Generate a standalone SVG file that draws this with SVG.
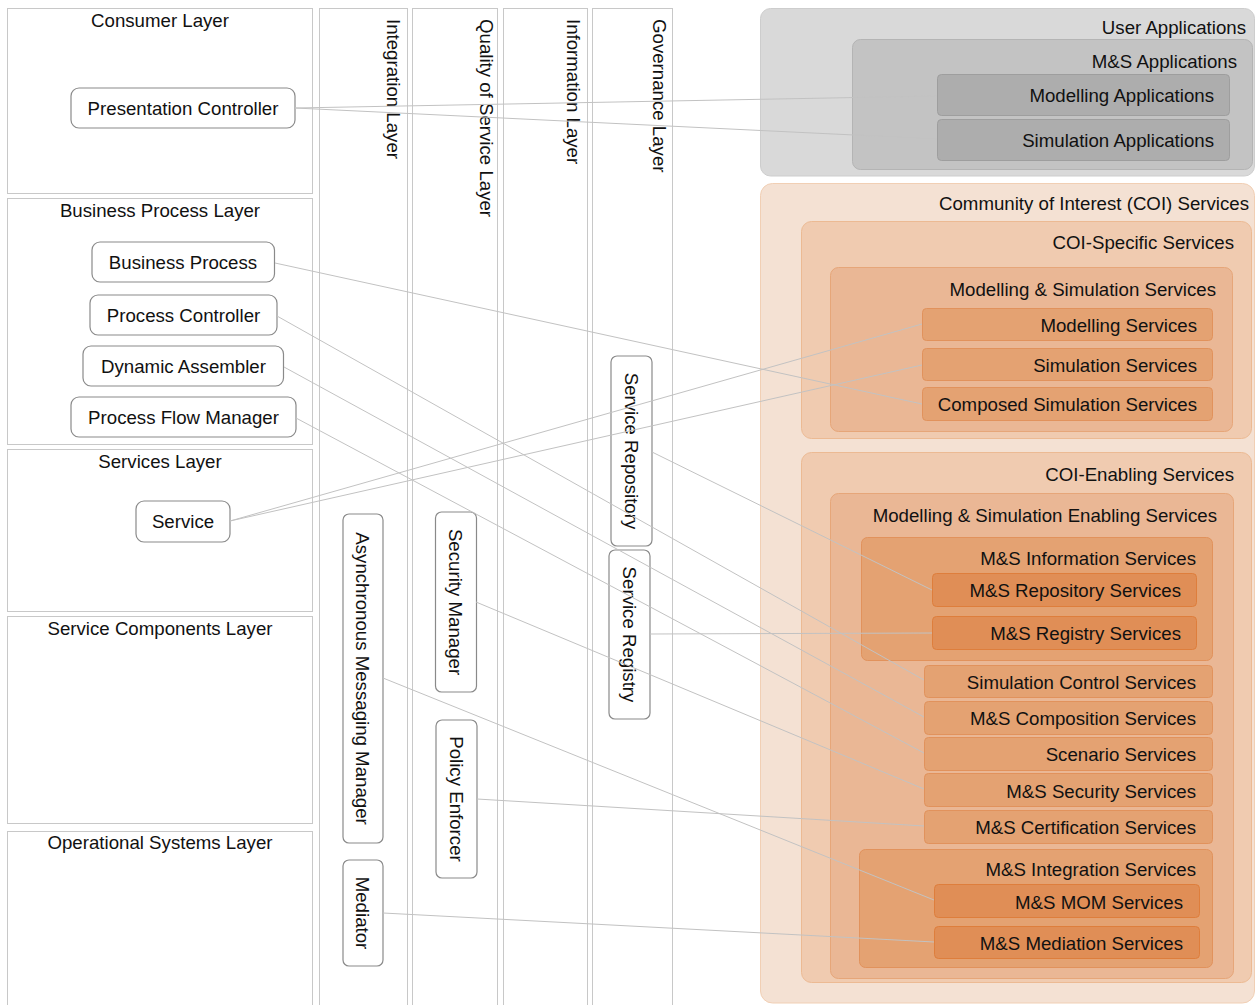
<svg xmlns="http://www.w3.org/2000/svg" width="1255" height="1005" viewBox="0 0 1255 1005">
  <style>
    text { font-family: "Liberation Sans", Arial, sans-serif; font-size: 18.67px; fill: #111; }
    .c { text-anchor: middle; }
    .r { text-anchor: end; }
    .layer { fill: #fff; stroke: #c8c8c8; stroke-width: 1; }
    .node { fill: #fff; stroke: #8a8a8a; stroke-width: 1.2; }
    .g1 { fill: #d9d9d9; stroke: #cdcdcd; }
    .g2 { fill: #c3c3c3; stroke: #b4b4b4; }
    .g3 { fill: #adadad; stroke: #9e9e9e; }
    .o1 { fill: #f4e1d3; stroke: #f1cfb4; }
    .o2 { fill: #f0cbb0; stroke: #ecba93; }
    .o3 { fill: #eab795; stroke: #e6a679; }
    .o4 { fill: #e4a272; stroke: #e1925c; }
    .o5 { fill: #e08e56; stroke: #de7e3c; }
    .conn line { stroke: #c2c2c2; stroke-width: 1; fill: none; }
  </style>

  <!-- horizontal architecture layers -->
  <g id="consumer-layer"><rect class="layer" x="7.5" y="8.5" width="305" height="185"/><text class="c" x="160" y="27">Consumer Layer</text></g>
  <g id="business-process-layer"><rect class="layer" x="7.5" y="198.5" width="305" height="246"/><text class="c" x="160" y="217">Business Process Layer</text></g>
  <g id="services-layer"><rect class="layer" x="7.5" y="449.5" width="305" height="162"/><text class="c" x="160" y="468">Services Layer</text></g>
  <g id="service-components-layer"><rect class="layer" x="7.5" y="616.5" width="305" height="207"/><text class="c" x="160" y="635">Service Components Layer</text></g>
  <g id="operational-systems-layer"><rect class="layer" x="7.5" y="831.5" width="305" height="190"/><text class="c" x="160" y="849">Operational Systems Layer</text></g>

  <!-- vertical cross-cutting layers -->
  <g id="integration-layer"><rect class="layer" x="319.5" y="8.5" width="88" height="1010"/><text transform="translate(387,19) rotate(90)">Integration Layer</text></g>
  <g id="qos-layer"><rect class="layer" x="412.5" y="8.5" width="85" height="1010"/><text transform="translate(480,19) rotate(90)">Quality of Service Layer</text></g>
  <g id="information-layer"><rect class="layer" x="503.5" y="8.5" width="84" height="1010"/><text transform="translate(567,19) rotate(90)">Information Layer</text></g>
  <g id="governance-layer"><rect class="layer" x="592.5" y="8.5" width="80" height="1010"/><text transform="translate(653,19) rotate(90)">Governance Layer</text></g>

  <!-- user applications -->
  <g id="user-applications"><rect class="g1" x="760.5" y="8.5" width="494" height="167.5" rx="10"/><text class="r" x="1246" y="34">User Applications</text></g>
  <g id="ms-applications"><rect class="g2" x="852.5" y="39.5" width="400" height="130" rx="8"/><text class="r" x="1237" y="67.5">M&amp;S Applications</text></g>
  <g id="modelling-applications"><rect class="g3" x="937.5" y="74.5" width="292" height="41" rx="4"/><text class="r" x="1214" y="102">Modelling Applications</text></g>
  <g id="simulation-applications"><rect class="g3" x="937.5" y="119.5" width="292" height="41" rx="4"/><text class="r" x="1214" y="147">Simulation Applications</text></g>

  <!-- community of interest services -->
  <g id="coi-services"><rect class="o1" x="760.5" y="183.5" width="494" height="819.5" rx="12"/><text class="r" x="1249" y="210">Community of Interest (COI) Services</text></g>
  <g id="coi-specific"><rect class="o2" x="801.5" y="221.5" width="450" height="217" rx="10"/><text class="r" x="1234" y="249">COI-Specific Services</text></g>
  <g id="ms-services"><rect class="o3" x="830.5" y="267.5" width="402" height="164" rx="8"/><text class="r" x="1216" y="296">Modelling &amp; Simulation Services</text></g>
  <g id="modelling-services"><rect class="o4" x="922.5" y="308.5" width="290" height="32" rx="4"/><text class="r" x="1197" y="331.5">Modelling Services</text></g>
  <g id="simulation-services"><rect class="o4" x="922.5" y="348.5" width="290" height="32" rx="4"/><text class="r" x="1197" y="372">Simulation Services</text></g>
  <g id="composed-simulation-services"><rect class="o4" x="922.5" y="387.5" width="290" height="33" rx="4"/><text class="r" x="1197" y="411">Composed Simulation Services</text></g>

  <g id="coi-enabling"><rect class="o2" x="801.5" y="452.5" width="450" height="530" rx="10"/><text class="r" x="1234" y="481">COI-Enabling Services</text></g>
  <g id="ms-enabling"><rect class="o3" x="830.5" y="493.5" width="403" height="485" rx="8"/><text class="r" x="1217" y="522">Modelling &amp; Simulation Enabling Services</text></g>
  <g id="ms-information"><rect class="o4" x="861.5" y="537.5" width="351" height="123" rx="6"/><text class="r" x="1196" y="565">M&amp;S Information Services</text></g>
  <g id="ms-repository"><rect class="o5" x="932.5" y="573.5" width="264" height="33" rx="4"/><text class="r" x="1181" y="597">M&amp;S Repository Services</text></g>
  <g id="ms-registry"><rect class="o5" x="932.5" y="616.5" width="264" height="33" rx="4"/><text class="r" x="1181" y="640">M&amp;S Registry Services</text></g>
  <g id="simulation-control"><rect class="o4" x="924.5" y="665.5" width="288" height="32" rx="4"/><text class="r" x="1196" y="688.5">Simulation Control Services</text></g>
  <g id="ms-composition"><rect class="o4" x="924.5" y="701.5" width="288" height="33" rx="4"/><text class="r" x="1196" y="725">M&amp;S Composition Services</text></g>
  <g id="scenario"><rect class="o4" x="924.5" y="737.5" width="288" height="33" rx="4"/><text class="r" x="1196" y="761">Scenario Services</text></g>
  <g id="ms-security"><rect class="o4" x="924.5" y="773.5" width="288" height="33" rx="4"/><text class="r" x="1196" y="797.5">M&amp;S Security Services</text></g>
  <g id="ms-certification"><rect class="o4" x="924.5" y="810.5" width="288" height="33" rx="4"/><text class="r" x="1196" y="833.5">M&amp;S Certification Services</text></g>
  <g id="ms-integration"><rect class="o4" x="859.5" y="849.5" width="353" height="118" rx="6"/><text class="r" x="1196" y="876">M&amp;S Integration Services</text></g>
  <g id="ms-mom"><rect class="o5" x="934.5" y="884.5" width="265" height="33" rx="4"/><text class="r" x="1183" y="908.5">M&amp;S MOM Services</text></g>
  <g id="ms-mediation"><rect class="o5" x="934.5" y="926.5" width="265" height="32" rx="4"/><text class="r" x="1183" y="949.5">M&amp;S Mediation Services</text></g>

  <!-- components in the horizontal layers -->
  <g id="presentation-controller"><rect class="node" x="71" y="88" width="224" height="40" rx="8"/><text class="c" x="183" y="115">Presentation Controller</text></g>
  <g id="business-process"><rect class="node" x="92" y="242" width="182.5" height="40" rx="8"/><text class="c" x="183" y="269">Business Process</text></g>
  <g id="process-controller"><rect class="node" x="90" y="295" width="187" height="40" rx="8"/><text class="c" x="183.5" y="322">Process Controller</text></g>
  <g id="dynamic-assembler"><rect class="node" x="83" y="346" width="200.5" height="40" rx="8"/><text class="c" x="183.5" y="373">Dynamic Assembler</text></g>
  <g id="process-flow-manager"><rect class="node" x="71" y="397" width="225" height="40" rx="8"/><text class="c" x="183.5" y="424">Process Flow Manager</text></g>
  <g id="service"><rect class="node" x="136" y="501" width="94" height="41" rx="8"/><text class="c" x="183" y="528">Service</text></g>

  <!-- components in the vertical layers -->
  <g id="async-messaging-manager"><rect class="node" x="343" y="514" width="40" height="329" rx="6"/><text class="c" transform="translate(356,678.5) rotate(90)">Asynchronous Messaging Manager</text></g>
  <g id="mediator"><rect class="node" x="343" y="860" width="40" height="106" rx="6"/><text class="c" transform="translate(356,913) rotate(90)">Mediator</text></g>
  <g id="security-manager"><rect class="node" x="435.5" y="512" width="41" height="180" rx="6"/><text class="c" transform="translate(449,602) rotate(90)">Security Manager</text></g>
  <g id="policy-enforcer"><rect class="node" x="436" y="720" width="41" height="158" rx="6"/><text class="c" transform="translate(449.5,799) rotate(90)">Policy Enforcer</text></g>
  <g id="service-repository"><rect class="node" x="611" y="356" width="41" height="190" rx="6"/><text class="c" transform="translate(624.5,451) rotate(90)">Service Repository</text></g>
  <g id="service-registry"><rect class="node" x="609" y="550" width="41" height="169" rx="6"/><text class="c" transform="translate(622.5,634.5) rotate(90)">Service Registry</text></g>

  <!-- mappings between architecture components and services -->
  <g class="conn" id="connectors">
    <line x1="295" y1="108" x2="937" y2="96"/>
    <line x1="295" y1="108" x2="937" y2="139"/>
    <line x1="275" y1="263" x2="922" y2="404"/>
    <line x1="277" y1="316" x2="924" y2="680"/>
    <line x1="284" y1="367" x2="924" y2="717"/>
    <line x1="296" y1="418" x2="924" y2="753"/>
    <line x1="230" y1="521" x2="922" y2="324"/>
    <line x1="230" y1="521" x2="922" y2="365"/>
    <line x1="652" y1="452" x2="932" y2="590"/>
    <line x1="650" y1="634" x2="932" y2="633"/>
    <line x1="476" y1="602" x2="924" y2="789"/>
    <line x1="477" y1="799" x2="924" y2="826"/>
    <line x1="383" y1="678" x2="934" y2="900"/>
    <line x1="383" y1="913" x2="934" y2="942"/>
  </g>
</svg>
